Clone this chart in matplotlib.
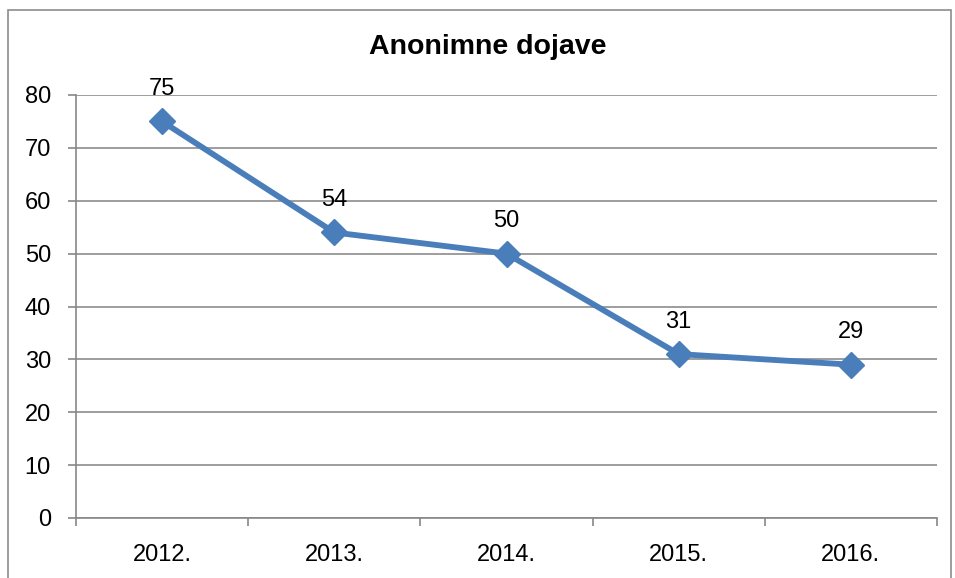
import matplotlib
matplotlib.use("Agg")
import matplotlib.pyplot as plt
from matplotlib.patches import Rectangle

categories = ["2012.", "2013.", "2014.", "2015.", "2016."]
values = [75, 54, 50, 31, 29]
title = "Anonimne dojave"

plt.rcParams['font.family'] = ['Liberation Sans', 'DejaVu Sans']

fig = plt.figure(figsize=(9.55, 5.78), dpi=100)
ax = fig.add_axes([76/955, 1-518/578, (937-76)/955, (518-95)/578])

x = list(range(len(categories)))
ax.plot(x, values, color='#4A7EBB', lw=4.2, marker='D', markersize=13,
        markerfacecolor='#4A7EBB', markeredgecolor='#4A7EBB', zorder=3, clip_on=False)
for xi, v in zip(x, values):
    ax.annotate(str(v), (xi, v), xytext=(0, 19), textcoords='offset points',
                ha='center', va='baseline', fontsize=17)

ax.set_xlim(-0.5, len(categories) - 0.5)
ax.set_ylim(0, 80)
ax.set_yticks(range(0, 81, 10))
ax.set_xticks(x)
ax.set_xticklabels(categories)
ax.set_xticks([i - 0.5 for i in range(len(categories) + 1)], minor=True)
ax.tick_params(axis='x', which='major', length=0, labelsize=17, pad=19)
ax.tick_params(axis='x', which='minor', length=6, color='#878787', width=1.2)
ax.tick_params(axis='y', length=6, color='#878787', width=1.2, labelsize=17, pad=12)
ax.yaxis.grid(True, color='#8c8c8c', lw=1.2)
ax.set_axisbelow(True)
for s in ['top', 'right']:
    ax.spines[s].set_visible(False)
for s in ['left', 'bottom']:
    ax.spines[s].set_color('#878787')
    ax.spines[s].set_linewidth(1.2)

fig.text(488/955, 1-47/578, title, ha='center', va='center', fontsize=20.5, fontweight='bold')

fig.patches.append(Rectangle((8/955, -0.05), (951-8)/955, 1.05 - 10/578, transform=fig.transFigure,
                             fill=False, edgecolor='#8c8c8c', lw=1.2))

fig.savefig("out.png", dpi=100)
